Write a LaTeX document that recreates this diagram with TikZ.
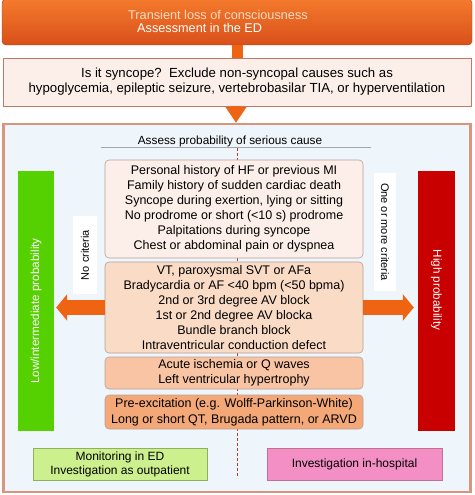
\documentclass[tikz,border=0pt]{standalone}
\usepackage{fontspec}
\setmainfont{Liberation Sans}
\usetikzlibrary{arrows.meta}
\definecolor{topA}{HTML}{F47A2C}
\definecolor{topB}{HTML}{D8501A}
\definecolor{boxborder}{HTML}{C07868}
\definecolor{palepink}{HTML}{FCEFEA}
\definecolor{outerborder}{HTML}{D9967C}
\definecolor{outerfill}{HTML}{EEF5FB}
\definecolor{critA}{HTML}{FCEEE8}
\definecolor{critB}{HTML}{FADBC6}
\definecolor{critC}{HTML}{F9C4A3}
\definecolor{critD}{HTML}{F4A878}
\definecolor{critborder}{HTML}{B8A098}
\definecolor{arroworange}{HTML}{EE6412}
\definecolor{greenbar}{HTML}{55D000}
\definecolor{redbar}{HTML}{C80000}
\definecolor{greenbox}{HTML}{CCF08E}
\definecolor{greenboxborder}{HTML}{90B060}
\definecolor{pinkbox}{HTML}{F48FC6}
\definecolor{pinkboxborder}{HTML}{C07090}
\definecolor{dashred}{HTML}{B83A28}
\definecolor{lighttext}{HTML}{FCDCC4}
\tikzset{
  txt/.style={font=\fontsize{12.5}{15}\selectfont, align=center, inner sep=0pt},
  critbox/.style={txt, draw=critborder, rounded corners=4pt, minimum width=258pt, line width=0.6pt},
  bar/.style={minimum width=36pt, minimum height=260pt, inner sep=0pt},
  bartext/.style={txt, text=white, font=\fontsize{11.7}{14}\selectfont},
  fatarrow/.style={arroworange, line width=15pt, -{Triangle[length=11pt,width=26pt]}},
  endbox/.style={txt, minimum width=174pt, minimum height=32pt, line width=0.6pt, font=\fontsize{12}{14}\selectfont},
}
\begin{document}
\begin{tikzpicture}[x=1pt,y=-1pt]
\useasboundingbox[fill=white] (0,0) rectangle (474,495);
% top box
\node[top color=topA, bottom color=topB, draw=topB!80!black, rounded corners=4pt,
      minimum width=470pt, minimum height=46pt, inner sep=0pt] (top) at (237,22) {};
\node[txt, anchor=base west, text=lighttext, font=\fontsize{12.7}{15}\selectfont] (t1) at (128,20) {Transient loss of consciousness};
\node[txt, anchor=base west, text=white, font=\fontsize{12.7}{15}\selectfont] (t2) at (137,33) {Assessment in the ED};
% syncope box
\node[txt, fill=palepink, draw=boxborder, line width=0.8pt, minimum width=468pt, minimum height=48pt, font=\fontsize{13.2}{15}\selectfont] (sync) at (237,82)
  {Is it syncope?\ \ Exclude non-syncopal causes such as\\hypoglycemia, epileptic seizure, vertebrobasilar TIA, or hyperventilation};
\draw[arroworange, line width=11pt] (top.south -| 237.5,0) -- (sync.north -| 237.5,0);
% outer box
\node[draw=outerborder, line width=2.2pt, fill=outerfill, minimum width=467pt, minimum height=368pt, inner sep=0pt] (outer) at (237,308) {};
\draw[arroworange, line width=8pt, -{Triangle[length=16pt,width=20pt]}] (sync.south -| 236,0) -- (outer.north -| 236,0);
% title
\node[txt, font=\fontsize{11.8}{15}\selectfont] (assess) at (230,141) {Assess probability of serious cause};
\draw[gray!70, line width=0.6pt] (101,147) coordinate (ul1) -- (371,147) coordinate (ul2);
\coordinate (dtop) at (237,148);
\coordinate (dbot) at (237,478);
\draw[dashred, dashed, line width=0.8pt, dash pattern=on 3pt off 2pt] (dtop) -- (dbot);
% label strips
\node[fill=white, minimum width=24pt, minimum height=78pt, inner sep=0pt] (nostrip) at (85,255) {};
\node[txt, rotate=90, font=\fontsize{11}{14}\selectfont] (nocrit) at (nostrip.center) {No criteria};
\node[fill=white, minimum width=22pt, minimum height=118pt, inner sep=0pt] (onestrip) at (385,232) {};
\node[txt, rotate=-90, font=\fontsize{11}{14}\selectfont] (onecrit) at (onestrip.center) {One or more criteria};
% criteria boxes
\node[critbox, fill=critA, minimum height=98pt] (c1) at (234,209)
  {Personal history of HF or previous MI\\Family history of sudden cardiac death\\Syncope during exertion, lying or sitting\\No prodrome or short (<10 s) prodrome\\Palpitations during syncope\\Chest or abdominal pain or dyspnea};
\node[critbox, fill=critB, minimum height=91pt] (c2) at (234,307.5)
  {VT, paroxysmal SVT or AFa\\Bradycardia or AF <40 bpm (<50 bpma)\\2nd or 3rd degree AV block\\1st or 2nd degree AV blocka\\Bundle branch block\\Intraventricular conduction defect};
\node[critbox, fill=critC, minimum height=32pt] (c3) at (234,373)
  {Acute ischemia or Q waves\\Left ventricular hypertrophy};
\node[critbox, fill=critD, minimum height=34pt, font=\fontsize{12.5}{16}\selectfont] (c4) at (234,412)
  {Pre-excitation (e.g. Wolff-Parkinson-White)\\Long or short QT, Brugada pattern, or ARVD};
% bars
\node[bar, fill=greenbar] (gbar) at (36,301) {};
\node[bartext, rotate=90] (gtext) at (36,311) {Low/intermediate probability};
\node[bar, fill=redbar, minimum width=37pt] (rbar) at (436.5,301) {};
\node[bartext, rotate=-90] (rtext) at (436.5,290) {High probability};
% arrows
\draw[fatarrow] (c2.west) -- ([xshift=2pt]gbar.east |- c2.west);
\draw[fatarrow] (c2.east) -- ([xshift=-4pt]rbar.west |- c2.east);
% end boxes
\node[endbox, fill=greenbox, draw=greenboxborder] (mon) at (120,464) {Monitoring in ED\\Investigation as outpatient};
\node[endbox, fill=pinkbox, draw=pinkboxborder, minimum width=175pt] (hosp) at (354.5,464) {Investigation in-hospital};
\end{tikzpicture}
\end{document}
